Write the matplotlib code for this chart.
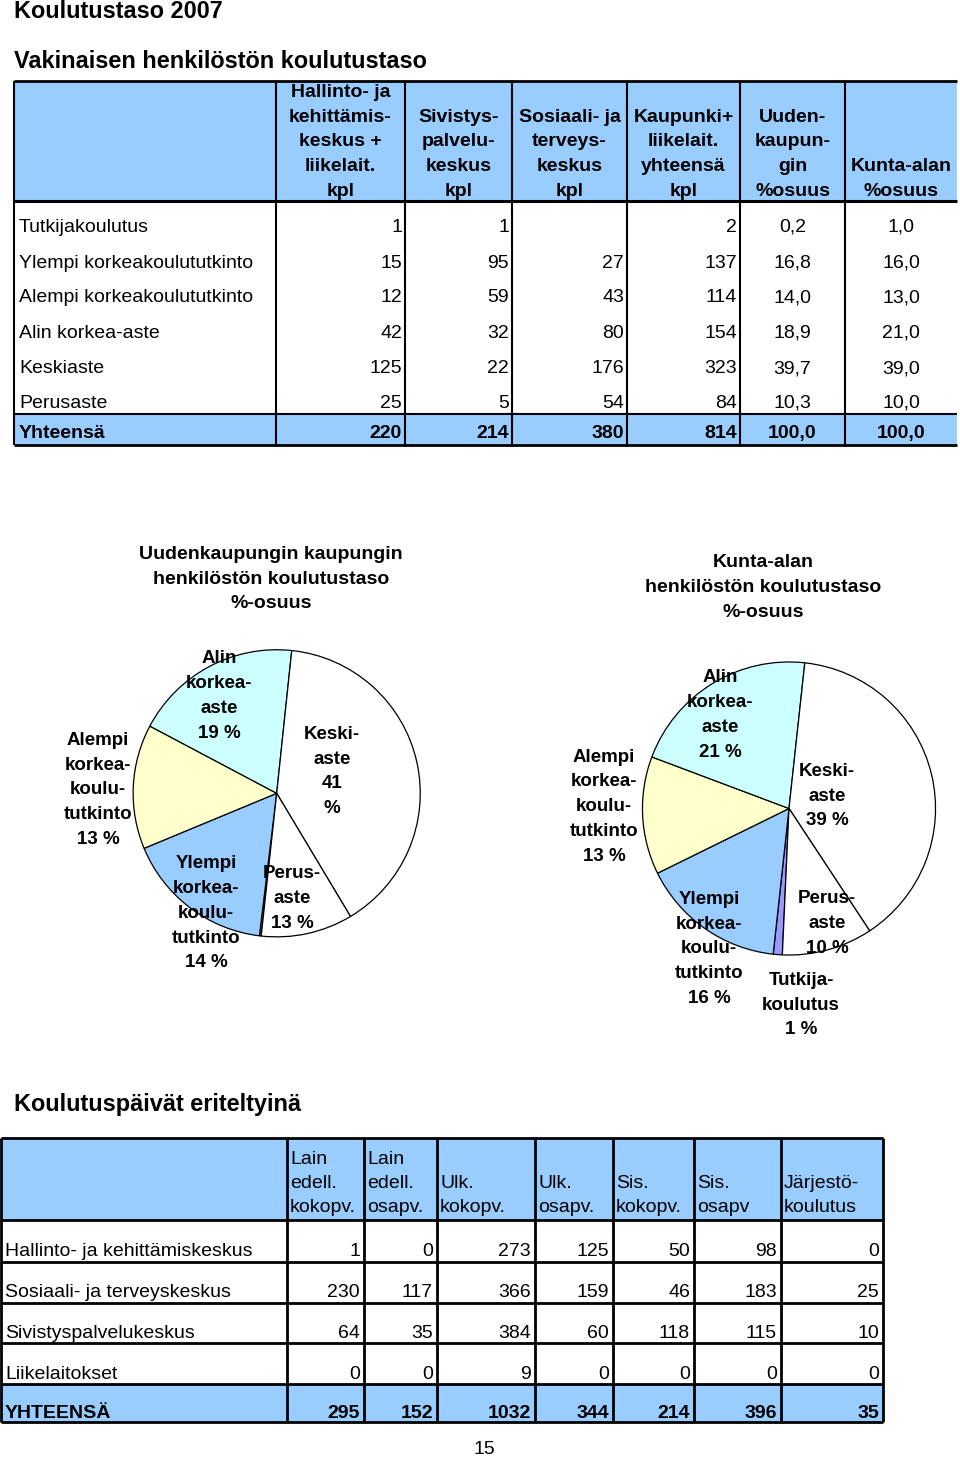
import matplotlib
matplotlib.use('Agg')
import matplotlib.pyplot as plt
from matplotlib.patches import Rectangle

plt.rcParams['font.family'] = ['Liberation Sans', 'DejaVu Sans']

W, H = 960, 1457

# ---------------- data ----------------
page_title = "Koulutustaso 2007"
table1_title = "Vakinaisen henkilöstön koulutustaso"
levels = ["Tutkijakoulutus", "Ylempi korkeakoulututkinto", "Alempi korkeakoulututkinto",
          "Alin korkea-aste", "Keskiaste", "Perusaste"]
table1_headers = ["Hallinto- ja\nkehittämis-\nkeskus +\nliikelait.\nkpl",
                  "Sivistys-\npalvelu-\nkeskus\nkpl",
                  "Sosiaali- ja\nterveys-\nkeskus\nkpl",
                  "Kaupunki+\nliikelait.\nyhteensä\nkpl",
                  "Uuden-\nkaupun-\ngin\n%osuus",
                  "Kunta-alan\n%osuus"]
hallinto_kpl = [1, 15, 12, 42, 125, 25]
sivistys_kpl = [1, 95, 59, 32, 22, 5]
sosiaali_kpl = [None, 27, 43, 80, 176, 54]
kaupunki_kpl = [2, 137, 114, 154, 323, 84]
uusikaupunki_pct = [0.2, 16.8, 14.0, 18.9, 39.7, 10.3]
kunta_ala_pct = [1.0, 16.0, 13.0, 21.0, 39.0, 10.0]
total_label = "Yhteensä"
table1_totals = ["220", "214", "380", "814", "100,0", "100,0"]

pie1_title = "Uudenkaupungin kaupungin\nhenkilöstön koulutustaso\n%-osuus"
pie2_title = "Kunta-alan\nhenkilöstön koulutustaso\n%-osuus"
pie_colors = ["#9999FF", "#99CCFF", "#FFFFCC", "#CCFFFF", "#FFFFFF", "#FFFFFF"]
pie1_labels = ["", "Ylempi\nkorkea-\nkoulu-\ntutkinto\n14 %", "Alempi\nkorkea-\nkoulu-\ntutkinto\n13 %",
               "Alin\nkorkea-\naste\n19 %", "Keski-\naste\n41\n%", "Perus-\naste\n13 %"]
pie2_labels = ["Tutkija-\nkoulutus\n1 %", "Ylempi\nkorkea-\nkoulu-\ntutkinto\n16 %",
               "Alempi\nkorkea-\nkoulu-\ntutkinto\n13 %", "Alin\nkorkea-\naste\n21 %",
               "Keski-\naste\n39 %", "Perus-\naste\n10 %"]

table2_title = "Koulutuspäivät eriteltyinä"
units = ["Hallinto- ja kehittämiskeskus", "Sosiaali- ja terveyskeskus",
         "Sivistyspalvelukeskus", "Liikelaitokset"]
day_headers = ["Lain\nedell.\nkokopv.", "Lain\nedell.\nosapv.", "Ulk.\nkokopv.", "Ulk.\nosapv.",
               "Sis.\nkokopv.", "Sis.\nosapv", "Järjestö-\nkoulutus"]
hallinto_days = [1, 0, 273, 125, 50, 98, 0]
sosiaali_days = [230, 117, 366, 159, 46, 183, 25]
sivistys_days = [64, 35, 384, 60, 118, 115, 10]
liikelaitos_days = [0, 0, 9, 0, 0, 0, 0]
total2_label = "YHTEENSÄ"
days_totals = [295, 152, 1032, 344, 214, 396, 35]
page_number = "15"

# ---------------- figure ----------------
fig = plt.figure(figsize=(W / 100, H / 100), dpi=100)
ax = fig.add_axes([0, 0, 1, 1])
ax.set_xlim(0, W)
ax.set_ylim(H, 0)
ax.axis('off')
ax.set_zorder(5)
ax.patch.set_alpha(0)

BLUE = "#99CCFF"
FS = 14
TFS = 16.9
LW = 1.5
DY = 2.0  # visual centring offset


def T(x, y, s, **kw):
    kw.setdefault('va', 'center')
    ax.text(x, y + DY, s, **kw)


def multiline(x, text, dy, y_last=None, y_first=None, ha='center', **kw):
    parts = text.split("\n")
    n = len(parts)
    for i, p in enumerate(parts):
        if y_last is not None:
            y = y_last - (n - 1 - i) * dy
        else:
            y = y_first + i * dy
        T(x, y, p, ha=ha, **kw)


def hline(x0, x1, y, lw=LW):
    ax.plot([x0, x1], [y, y], color='black', lw=lw, solid_capstyle='butt')


def vline(x, y0, y1, lw=LW):
    ax.plot([x, x], [y0, y1], color='black', lw=lw, solid_capstyle='butt')


# titles
ax.text(14, 18.5, page_title, fontsize=TFS, fontweight='bold', va='baseline', ha='left')
ax.text(14, 68.5, table1_title, fontsize=TFS, fontweight='bold', va='baseline', ha='left')

# ---------------- table 1 ----------------
c1 = [14, 276, 405, 512, 627, 740, 845, 957]
t1_top, t1_hb, t1_tt, t1_bot = 81, 201, 414, 445
row_y = [225, 261, 296, 331, 366.5, 401.5]
tot_y = 431.5

ax.add_patch(Rectangle((c1[0], t1_top), c1[-1] - c1[0], t1_hb - t1_top, facecolor=BLUE, edgecolor='none'))
ax.add_patch(Rectangle((c1[0], t1_tt), c1[-1] - c1[0], t1_bot - t1_tt, facecolor=BLUE, edgecolor='none'))
hline(c1[0], c1[-1], t1_top, 2)
hline(c1[0], c1[-1], t1_hb, 2.2)
hline(c1[0], c1[-1], t1_tt, 1.5)
hline(c1[0], c1[-1], t1_bot, 2)
for x in c1[:-1]:
    vline(x, t1_top, t1_bot)

for j, htxt in enumerate(table1_headers):
    cx = (c1[j + 1] + c1[j + 2]) / 2
    multiline(cx, htxt, 24.7, y_last=189.3, fontsize=FS, fontweight='bold')

kpl_cols = [hallinto_kpl, sivistys_kpl, sosiaali_kpl, kaupunki_kpl]
for i, lab in enumerate(levels):
    y = row_y[i]
    T(19, y, lab, fontsize=FS, ha='left')
    for j, col in enumerate(kpl_cols):
        v = col[i]
        if v is not None:
            T(c1[j + 2] - 3, y, str(v), fontsize=FS, ha='right')
    for j, col in enumerate([uusikaupunki_pct, kunta_ala_pct]):
        cx = (c1[5 + j] + c1[6 + j]) / 2
        T(cx, y, f"{col[i]:.1f}".replace('.', ','), fontsize=FS, ha='center')

T(19, tot_y, total_label, fontsize=FS, fontweight='bold', ha='left')
for j, t in enumerate(table1_totals):
    if j < 4:
        T(c1[j + 2] - 3, tot_y, t, fontsize=FS, fontweight='bold', ha='right')
    else:
        T((c1[j + 1] + c1[j + 2]) / 2, tot_y, t, fontsize=FS, fontweight='bold', ha='center')

# ---------------- pies ----------------
PFS = 13.5
PTFS = 14


def pie_axes(cx, cy, r):
    return fig.add_axes([(cx - r) / W, (H - cy - r) / H, 2 * r / W, 2 * r / H])


pa1 = pie_axes(276.7, 793.3, 145)
pa1.pie(uusikaupunki_pct, colors=pie_colors, startangle=-96.2, counterclock=False,
        wedgeprops=dict(edgecolor='black', linewidth=0.9))
pa1.set_xlim(-1.01, 1.01)
pa1.set_ylim(-1.01, 1.01)
pa1.axis('off')

pa2 = pie_axes(789, 808.5, 148)
pa2.pie(kunta_ala_pct, colors=pie_colors, startangle=-92.6, counterclock=False,
        wedgeprops=dict(edgecolor='black', linewidth=0.9))
pa2.set_xlim(-1.01, 1.01)
pa2.set_ylim(-1.01, 1.01)
pa2.axis('off')

multiline(271, pie1_title, 24.7, y_first=552.3, fontsize=PTFS, fontweight='bold')
multiline(763, pie2_title, 24.7, y_first=560.7, fontsize=PTFS, fontweight='bold')

pie1_label_pos = [None, (206, 861.7), (98, 738.3), (219, 656.7), (332, 732.3), (292, 871.7)]
pie2_label_pos = [(801, 978.3), (709, 897.3), (604, 755), (720, 676), (827, 769.3), (827, 896.7)]
for lab, pos in zip(pie1_labels, pie1_label_pos):
    if lab and pos:
        multiline(pos[0], lab, 24.8, y_first=pos[1], fontsize=PFS, fontweight='bold')
for lab, pos in zip(pie2_labels, pie2_label_pos):
    multiline(pos[0], lab, 24.8, y_first=pos[1], fontsize=PFS, fontweight='bold')

# ---------------- table 2 ----------------
ax.text(14, 1111, table2_title, fontsize=TFS, fontweight='bold', va='baseline', ha='left')
c2 = [1, 287, 364, 437, 535, 613, 694, 781, 883]
r2 = [1138, 1220, 1262, 1303, 1343, 1384, 1422]
ax.add_patch(Rectangle((c2[0], r2[0]), c2[-1] - c2[0], r2[1] - r2[0], facecolor=BLUE, edgecolor='none'))
ax.add_patch(Rectangle((c2[0], r2[5]), c2[-1] - c2[0], r2[6] - r2[5], facecolor=BLUE, edgecolor='none'))
for y in r2:
    hline(c2[0], c2[-1], y, 2)
for x in c2:
    vline(x, r2[0], r2[-1], 2)

for j, htxt in enumerate(day_headers):
    multiline(c2[j + 1] + 3, htxt, 24.4, y_last=1206, ha='left', fontsize=FS)

rows2 = [hallinto_days, sosiaali_days, sivistys_days, liikelaitos_days]
row2_y = [1250, 1290.7, 1331.7, 1372.7]
for i, (lab, vals) in enumerate(zip(units, rows2)):
    y = row2_y[i]
    T(5, y, lab, fontsize=FS, ha='left')
    for j, v in enumerate(vals):
        T(c2[j + 2] - 4, y, str(v), fontsize=FS, ha='right')
T(5, 1411, total2_label, fontsize=FS, fontweight='bold', ha='left')
for j, v in enumerate(days_totals):
    T(c2[j + 2] - 4, 1411, str(v), fontsize=FS, fontweight='bold', ha='right')

T(484, 1448, page_number, fontsize=FS, ha='center')

fig.savefig("out.png", dpi=100, facecolor='white')
